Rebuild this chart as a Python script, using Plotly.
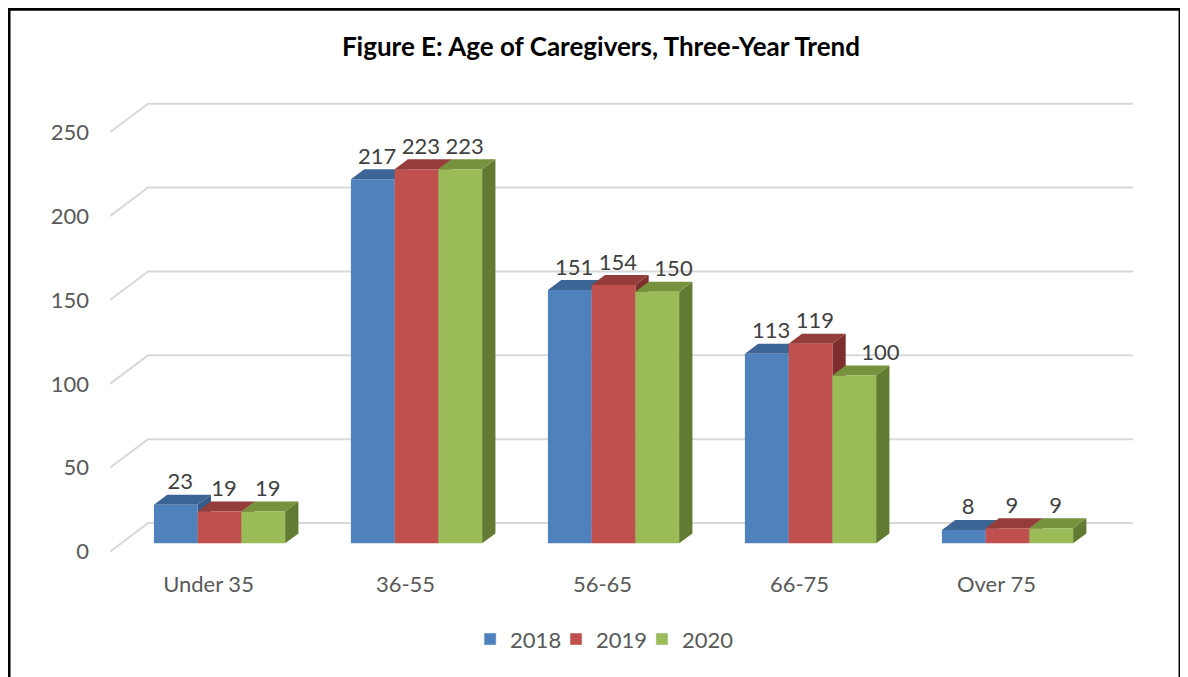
import plotly.graph_objects as go

# data
categories = ["Under 35", "36-55", "56-65", "66-75", "Over 75"]
years = ["2018", "2019", "2020"]
values_2018 = [23, 217, 151, 113, 8]
values_2019 = [19, 223, 154, 119, 9]
values_2020 = [19, 223, 150, 100, 9]
y_ticks = [0, 50, 100, 150, 200, 250]

series = [values_2018, values_2019, values_2020]
front_colors = ["#4F81BD", "#C0504D", "#9BBB59"]
top_colors = ["#3C6494", "#943D3A", "#77923D"]
side_colors = ["#355A86", "#7E2E2C", "#637A32"]

FONT = "Lato"
TEXT_COLOR = "#595959"
GRID_COLOR = "#D9D9D9"

# fake 3d geometry (x in category units, y in value units)
WALL_DX = 0.193
WALL_DY = 17
BAR_W = 0.222
F0, F1 = 0.29, 0.64   # front / back depth of bars as fraction of wall depth
# labels that Excel pushed sideways to keep clear of a taller neighbour
LABEL_NUDGE = {(2, 2): 0.06, (2, 3): 0.11}
# one small legend per year so the entries sit as tight as in the original
LEGEND_X = [0.352, 0.436, 0.520]


def join_polys(polys):
    xs, ys = [], []
    for p in polys:
        for px_, py_ in p:
            xs.append(px_)
            ys.append(py_)
        xs.append(p[0][0])
        ys.append(p[0][1])
        xs.append(None)
        ys.append(None)
    return xs, ys


fig = go.Figure()

# back wall grid lines with the diagonal on the side
gx, gy = [], []
for v in y_ticks:
    gx += [-0.5, -0.5 + WALL_DX, len(categories) - 0.5 + WALL_DX, None]
    gy += [v, v + WALL_DY, v + WALL_DY, None]
fig.add_trace(go.Scatter(x=gx, y=gy, mode="lines", line=dict(color=GRID_COLOR, width=2),
                         hoverinfo="skip", showlegend=False))

ddx = (F1 - F0) * WALL_DX
ddy = (F1 - F0) * WALL_DY
y0 = F0 * WALL_DY
label_x, label_y, label_t = [], [], []
for s, vals in enumerate(series):
    fronts, tops, sides = [], [], []
    for i, v in enumerate(vals):
        x0 = i - 1.5 * BAR_W + s * BAR_W + F0 * WALL_DX
        x1 = x0 + BAR_W
        y1 = y0 + v
        fronts.append([(x0, y0), (x1, y0), (x1, y1), (x0, y1)])
        tops.append([(x0, y1), (x1, y1), (x1 + ddx, y1 + ddy), (x0 + ddx, y1 + ddy)])
        sides.append([(x1, y0), (x1 + ddx, y0 + ddy), (x1 + ddx, y1 + ddy), (x1, y1)])
        label_x.append((x0 + x1) / 2 + ddx / 3 + LABEL_NUDGE.get((s, i), 0))
        label_y.append(y1 + ddy)
        label_t.append(str(v))
    for polys, col in [(sides, side_colors[s]), (tops, top_colors[s]), (fronts, front_colors[s])]:
        xs, ys = join_polys(polys)
        fig.add_trace(go.Scatter(x=xs, y=ys, mode="lines", fill="toself", fillcolor=col,
                                 line=dict(width=0, color=col), hoverinfo="skip",
                                 showlegend=False))

fig.add_trace(go.Scatter(x=label_x, y=label_y, mode="text", text=label_t,
                         textposition="top center",
                         textfont=dict(family=FONT, size=22, color="#404040"),
                         hoverinfo="skip", showlegend=False))

# legend entries
legends = {}
for s, name in enumerate(years):
    key = "legend" if s == 0 else f"legend{s + 1}"
    fig.add_trace(go.Bar(x=[None], y=[None], name=name, marker_color=front_colors[s],
                         legend=key))
    legends[key] = dict(orientation="h", x=LEGEND_X[s], xanchor="left",
                        y=-0.186, yanchor="middle", itemwidth=30,
                        bgcolor="rgba(0,0,0,0)",
                        font=dict(family=FONT, size=22, color=TEXT_COLOR))

# page has an 8px body margin, so the figure is a little smaller than the window
fig.update_layout(
    width=1180, height=669,
    margin=dict(l=102, r=55, t=93.8, b=121.6),
    plot_bgcolor="white", paper_bgcolor="white",
    font=dict(family=FONT, size=22, color=TEXT_COLOR),
    title=dict(text="<b>Figure E: Age of Caregivers, Three-Year Trend</b>",
               x=0.5025, xref="container", xanchor="center",
               y=0.9417, yref="container", yanchor="middle",
               font=dict(family=FONT, size=26, color="#000000")),
    showlegend=True,
    shapes=[dict(type="rect", xref="paper", yref="paper",
                 x0=-0.0987, x1=1.046, y0=-0.4, y1=1.2046,
                 line=dict(color="black", width=3))],
    **legends,
)
fig.update_xaxes(type="linear", range=[-0.5, len(categories) - 0.5 + WALL_DX],
                 tickvals=list(range(len(categories))), ticktext=categories,
                 showgrid=False, zeroline=False, showline=False,
                 ticklabelstandoff=14, fixedrange=True)
fig.update_yaxes(range=[-2, 268], tickvals=y_ticks, showgrid=False, zeroline=False,
                 showline=False, ticklabelstandoff=20, fixedrange=True)

fig.write_html("out.html")
